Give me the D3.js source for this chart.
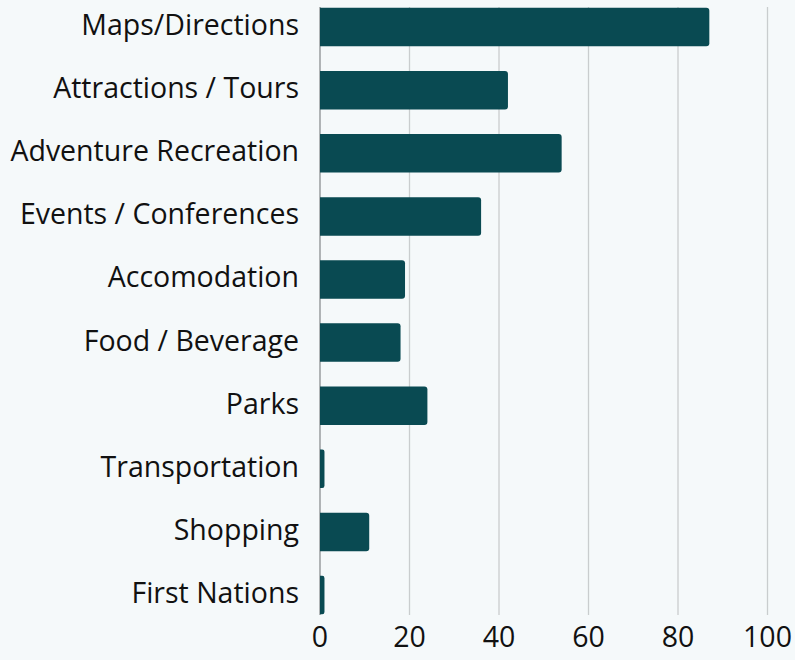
<!DOCTYPE html>
<meta charset="utf-8">
<html>
<body style="margin:0;background:#f5f9fa">
<div id="chart"></div>
<script src="https://cdn.jsdelivr.net/npm/d3@7"></script>
<script>
var categories = ["Maps/Directions", "Attractions / Tours", "Adventure Recreation", "Events / Conferences",
    "Accomodation", "Food / Beverage", "Parks", "Transportation", "Shopping", "First Nations"];
var values = [87, 42, 54, 36, 19, 18, 24, 1, 11, 1];
var ticks = [0, 20, 40, 60, 80, 100];

var W = 795, H = 660;
var svg = d3.select("#chart").append("svg")
    .attr("width", W).attr("height", H)
    .style("background", "#f5f9fa")
    .style("font-family", "'Open Sans', sans-serif");

var x = d3.scaleLinear().domain([0, 100]).range([320, 767.5]);
var y = d3.scaleBand().domain(categories).range([-4.5, 626.6]).paddingInner(0.39).paddingOuter(0.195);

// grid
svg.selectAll("line.grid")
    .data(ticks)
    .enter().append("line")
    .attr("x1", function (d) { return x(d); })
    .attr("x2", function (d) { return x(d); })
    .attr("y1", 7).attr("y2", 615)
    .attr("stroke", function (d) { return d === 0 ? "#8a8f91" : "#c9cdce"; })
    .attr("stroke-width", 1.3);

// bars: rounded right end only
svg.selectAll("path.bar")
    .data(values)
    .enter().append("path")
    .attr("fill", "#094a52")
    .attr("d", function (d, i) {
        var x0 = x(0), x1 = x(d), y0 = y(categories[i]), h = y.bandwidth();
        var r = Math.min(3, (x1 - x0) / 2);
        return "M" + x0 + "," + y0 + "H" + (x1 - r) + "Q" + x1 + "," + y0 + " " + x1 + "," + (y0 + r)
            + "V" + (y0 + h - r) + "Q" + x1 + "," + (y0 + h) + " " + (x1 - r) + "," + (y0 + h) + "H" + x0 + "Z";
    });

// category labels
svg.selectAll("text.cat")
    .data(categories)
    .enter().append("text")
    .attr("x", 299)
    .attr("y", function (d) { return y(d) + y.bandwidth() / 2 - 2; })
    .attr("dy", "0.35em")
    .attr("text-anchor", "end")
    .attr("font-size", 28.5)
    .attr("fill", "#111")
    .text(function (d) { return d; });

// tick labels
svg.selectAll("text.tick")
    .data(ticks)
    .enter().append("text")
    .attr("x", function (d) { return x(d); })
    .attr("y", 637)
    .attr("dy", "0.35em")
    .attr("text-anchor", "middle")
    .attr("font-size", 28.5)
    .attr("fill", "#111")
    .text(function (d) { return d; });
</script>
</body>
</html>
